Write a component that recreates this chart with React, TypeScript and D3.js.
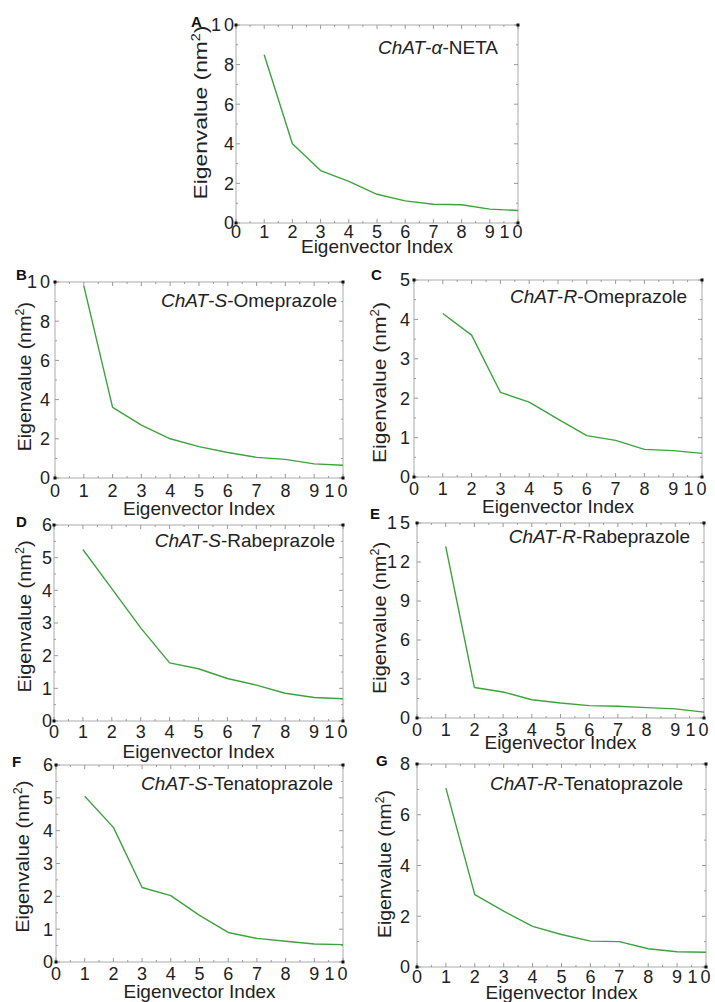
import React from 'react';
import * as d3 from 'd3';

// ---- data ----
const eigenIndex = [1, 2, 3, 4, 5, 6, 7, 8, 9, 10];
const xTickValues = [0, 1, 2, 3, 4, 5, 6, 7, 8, 9, 10];

const valuesA = [8.5, 4.0, 2.65, 2.1, 1.45, 1.12, 0.95, 0.92, 0.7, 0.63];
const valuesB = [9.8, 3.6, 2.7, 2.0, 1.6, 1.3, 1.05, 0.95, 0.72, 0.65];
const valuesC = [4.15, 3.6, 2.15, 1.9, 1.47, 1.05, 0.93, 0.7, 0.67, 0.6];
const valuesD = [5.25, 4.05, 2.85, 1.78, 1.6, 1.3, 1.1, 0.85, 0.72, 0.68];
const valuesE = [13.2, 2.35, 2.0, 1.4, 1.15, 0.95, 0.9, 0.8, 0.7, 0.45];
const valuesF = [5.05, 4.1, 2.27, 2.02, 1.42, 0.9, 0.72, 0.63, 0.55, 0.53];
const valuesG = [7.05, 2.85, 2.2, 1.6, 1.28, 1.02, 1.0, 0.72, 0.6, 0.58];

const yTicksA = [0, 2, 4, 6, 8, 10];
const yTicksB = [0, 2, 4, 6, 8, 10];
const yTicksC = [0, 1, 2, 3, 4, 5];
const yTicksD = [0, 1, 2, 3, 4, 5, 6];
const yTicksE = [0, 3, 6, 9, 12, 15];
const yTicksF = [0, 1, 2, 3, 4, 5, 6];
const yTicksG = [0, 2, 4, 6, 8];

const panelLetters = ['A', 'B', 'C', 'D', 'E', 'F', 'G'];
const labelStereo = ['α', 'S', 'R', 'S', 'R', 'S', 'R'];
const labelDrug = ['NETA', 'Omeprazole', 'Omeprazole', 'Rabeprazole', 'Rabeprazole', 'Tenatoprazole', 'Tenatoprazole'];
const seriesList = [valuesA, valuesB, valuesC, valuesD, valuesE, valuesF, valuesG];
const yTickList = [yTicksA, yTicksB, yTicksC, yTicksD, yTicksE, yTicksF, yTicksG];

const xTitle = 'Eigenvector Index';
const yTitle = 'Eigenvalue (nm';

// ---- layout (positions / sizes) ----
// ys: stretch of the y title along its direction
const layout = [
  { l: 236, t: 25, r: 518, b: 223, lx: 191, ly: 27, ax: 498, ay: 54, ytx: 207, yty: 112.5, ys: 1.2, xtb: 15, xtt: 30, gap: 2 },
  { l: 55, t: 282, r: 343, b: 478, lx: 16, ly: 280, ax: 337, ay: 307, ytx: 31, yty: 376.7, ys: 1.03, xtb: 19, xtt: 37, gap: 5 },
  { l: 414, t: 280, r: 702, b: 477, lx: 371, ly: 280, ax: 687, ay: 303, ytx: 386, yty: 382.5, ys: 1.11, xtb: 18, xtt: 36, gap: 4 },
  { l: 54, t: 525, r: 343, b: 721, lx: 16, ly: 527, ax: 335, ay: 547, ytx: 31, yty: 616.5, ys: 1.05, xtb: 17, xtt: 37, gap: 2 },
  { l: 417, t: 523, r: 704, b: 718, lx: 370, ly: 519, ax: 690, ay: 543, ytx: 386, yty: 618, ys: 1.05, xtb: 18, xtt: 31, gap: 7 },
  { l: 56, t: 765, r: 343, b: 962, lx: 12, ly: 767, ax: 333, ay: 790, ytx: 29, yty: 856.7, ys: 1.05, xtb: 18, xtt: 36, gap: 3 },
  { l: 417, t: 764, r: 706, b: 967, lx: 376, ly: 766, ax: 683, ay: 790, ytx: 391, yty: 864, ys: 1.02, xtb: 16, xtt: 32, gap: 7 },
];

const FONT = '"Liberation Sans", Arial, Helvetica, sans-serif';
const TEXT = '#222';
const FRAME = '#acacac';
const TICK = '#9a9a9a';
const GREEN = '#3ea23e';

function TickText({ v }: { v: number }) {
  const s = String(v);
  if (s.length < 2) return <>{s}</>;
  return (
    <>
      <tspan>{s[0]}</tspan>
      <tspan dx={3}>{s.slice(1)}</tspan>
    </>
  );
}

function Panel({ idx }: { idx: number }) {
  const p = layout[idx];
  const values = seriesList[idx];
  const yTicks = yTickList[idx];
  const yMax = yTicks[yTicks.length - 1];
  const yStep = yTicks[1] - yTicks[0];
  const x = d3.scaleLinear().domain([0, 10]).range([p.l, p.r]);
  const y = d3.scaleLinear().domain([0, yMax]).range([p.b, p.t]);
  const line = d3
    .line<number>()
    .x((_, i) => x(eigenIndex[i]))
    .y((d) => y(d));

  const xMinor = d3.range(0.5, 10, 1);
  const yMinor = d3.range(yStep / 2, yMax, yStep);
  const MAJ = 4;
  const MIN = 2;

  const corners = [
    [p.l, p.t],
    [p.r, p.t],
    [p.l, p.b],
    [p.r, p.b],
  ];

  return (
    <g>
      <rect x={p.l} y={p.t} width={p.r - p.l} height={p.b - p.t} fill="none" stroke={FRAME} strokeWidth={1} />
      {xTickValues.map((v) => (
        <g key={'xt' + v}>
          <line x1={x(v)} x2={x(v)} y1={p.b} y2={p.b - MAJ} stroke={TICK} />
          <line x1={x(v)} x2={x(v)} y1={p.t} y2={p.t + MAJ} stroke={TICK} />
        </g>
      ))}
      {xMinor.map((v) => (
        <g key={'xm' + v}>
          <line x1={x(v)} x2={x(v)} y1={p.b} y2={p.b - MIN} stroke={TICK} />
          <line x1={x(v)} x2={x(v)} y1={p.t} y2={p.t + MIN} stroke={TICK} />
        </g>
      ))}
      {yTicks.map((v) => (
        <g key={'yt' + v}>
          <line x1={p.l} x2={p.l + MAJ} y1={y(v)} y2={y(v)} stroke={TICK} />
          <line x1={p.r} x2={p.r - MAJ} y1={y(v)} y2={y(v)} stroke={TICK} />
        </g>
      ))}
      {yMinor.map((v) => (
        <g key={'ym' + v}>
          <line x1={p.l} x2={p.l + MIN} y1={y(v)} y2={y(v)} stroke={TICK} />
          <line x1={p.r} x2={p.r - MIN} y1={y(v)} y2={y(v)} stroke={TICK} />
        </g>
      ))}
      {corners.map(([cx, cy], i) => (
        <rect key={'c' + i} x={cx - 1.5} y={cy - 1.5} width={3} height={3} fill="#111" />
      ))}
      <path d={line(values) || ''} fill="none" stroke={GREEN} strokeWidth={1.4} strokeLinejoin="round" />
      {xTickValues.map((v) => (
        <text
          key={'xl' + v}
          x={v === 10 ? x(v) - 7 : x(v)}
          y={p.b + p.xtb}
          textAnchor="middle"
          fontSize={18}
          fill={TEXT}
          fontFamily={FONT}
        >
          <TickText v={v} />
        </text>
      ))}
      {yTicks.map((v) => (
        <text
          key={'yl' + v}
          x={p.l - p.gap}
          y={y(v)}
          dy="0.36em"
          textAnchor="end"
          fontSize={18}
          fill={TEXT}
          fontFamily={FONT}
        >
          <TickText v={v} />
        </text>
      ))}
      <text x={(p.l + p.r) / 2} y={p.b + p.xtt} textAnchor="middle" fontSize={19} fill={TEXT} fontFamily={FONT}>
        {xTitle}
      </text>
      <text
        transform={`translate(${p.ytx},${p.yty}) rotate(-90) scale(${p.ys},1)`}
        textAnchor="middle"
        fontSize={19}
        fill={TEXT}
        fontFamily={FONT}
      >
        {yTitle}
        <tspan fontSize={12} dy={-7}>2</tspan>
        <tspan dy={7}>)</tspan>
      </text>
      <text x={p.ax} y={p.ay} textAnchor="end" fontSize={19} fill={TEXT} fontFamily={FONT}>
        <tspan fontStyle="italic">ChAT</tspan>
        <tspan>-</tspan>
        <tspan fontStyle="italic">{labelStereo[idx]}</tspan>
        <tspan>-{labelDrug[idx]}</tspan>
      </text>
      <text x={p.lx} y={p.ly} fontSize={15} fontWeight="bold" fill="#111" fontFamily={FONT}>
        {panelLetters[idx]}
      </text>
    </g>
  );
}

export default function App() {
  return (
    <svg
      width={715}
      height={1002}
      viewBox="0 0 715 1002"
      style={{ position: 'absolute', left: 0, top: 0, background: '#fff' }}
    >
      <rect x={0} y={0} width={715} height={1002} fill="#fff" />
      {layout.map((_, i) => (
        <Panel key={i} idx={i} />
      ))}
    </svg>
  );
}
